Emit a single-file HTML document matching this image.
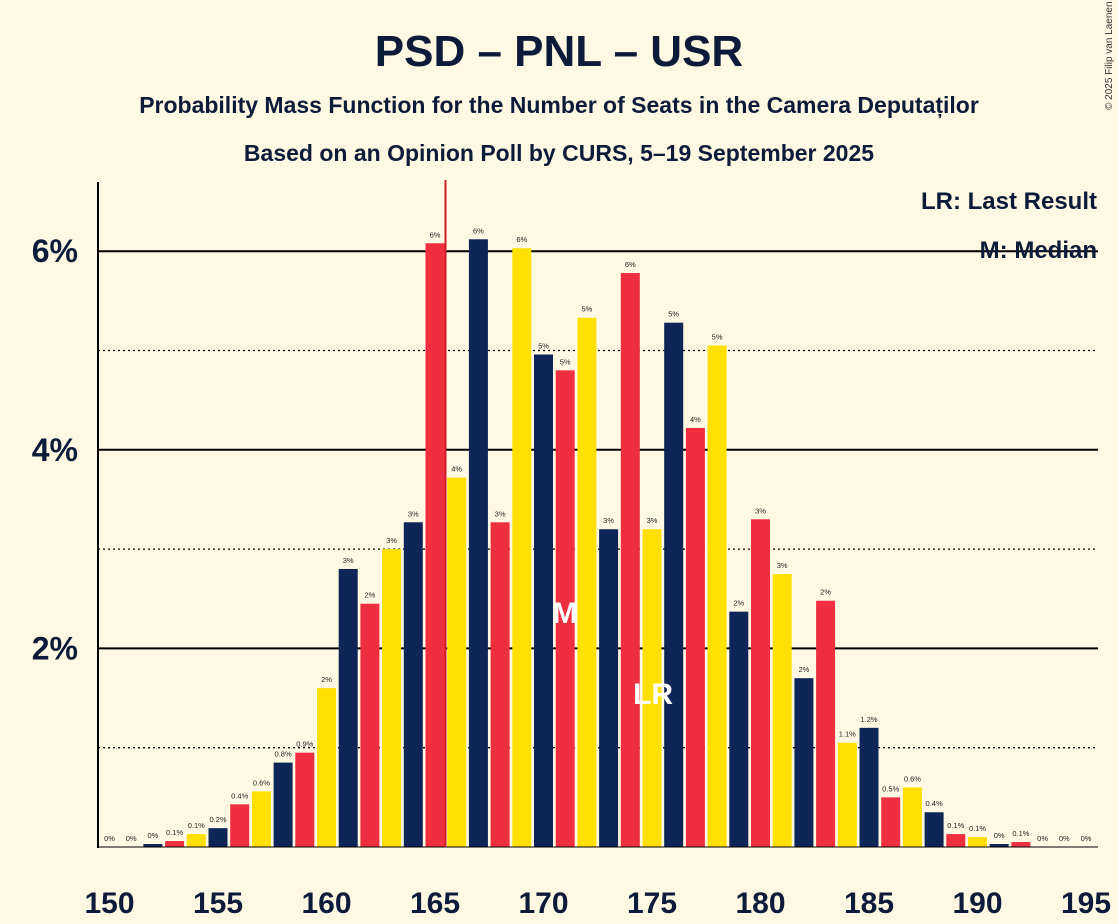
<!DOCTYPE html>
<html><head><meta charset="utf-8"><style>
body{margin:0;background:#fff9e3;}
svg{display:block;font-family:"Liberation Sans",sans-serif;}
</style></head><body>
<svg id="s" width="1118" height="924" xmlns="http://www.w3.org/2000/svg">
<rect width="1118" height="924" fill="#fff9e3"/>
<text x="559" y="66" text-anchor="middle" font-size="44" font-weight="bold" fill="#0d1b3a">PSD – PNL – USR</text>
<text x="559" y="113" text-anchor="middle" font-size="23" font-weight="bold" fill="#0d1b3a">Probability Mass Function for the Number of Seats in the Camera Deputaților</text>
<text x="559" y="161" text-anchor="middle" font-size="23" font-weight="bold" fill="#0d1b3a">Based on an Opinion Poll by CURS, 5–19 September 2025</text>
<text x="1112" y="110" font-size="10" fill="#333" transform="rotate(-90 1112 110)">© 2025 Filip van Laenen</text>
<g id="grid"></g>
<g id="bars"></g>
<line x1="98" y1="182" x2="98" y2="848" stroke="#000" stroke-width="2"/>
<line x1="98" y1="847" x2="1098" y2="847" stroke="#000" stroke-width="1"/>
<line x1="445.5" y1="180" x2="445.5" y2="847" stroke="#d01c2a" stroke-width="2"/>
<text x="1097" y="209" text-anchor="end" font-size="24" font-weight="bold" fill="#0d1b3a">LR: Last Result</text>
<text x="1097" y="258" text-anchor="end" font-size="24" font-weight="bold" fill="#0d1b3a">M: Median</text>
<text x="565" y="623" text-anchor="middle" font-size="30" font-weight="bold" fill="#fff">M</text>
<text x="653" y="704" text-anchor="middle" font-size="30" font-weight="bold" fill="#fff">LR</text>
</svg>
<script>
const v={150:0,151:0,152:0.03,153:0.06,154:0.13,155:0.19,156:0.43,157:0.56,158:0.85,159:0.95,160:1.6,161:2.8,162:2.45,163:3.0,164:3.27,165:6.08,166:3.72,167:6.12,168:3.27,169:6.03,170:4.96,171:4.8,172:5.33,173:3.2,174:5.78,175:3.2,176:5.28,177:4.22,178:5.05,179:2.37,180:3.3,181:2.75,182:1.7,183:2.48,184:1.05,185:1.2,186:0.5,187:0.6,188:0.35,189:0.13,190:0.1,191:0.03,192:0.05,193:0,194:0,195:0};
const lab={150:"0%",151:"0%",152:"0%",153:"0.1%",154:"0.1%",155:"0.2%",156:"0.4%",157:"0.6%",158:"0.8%",159:"0.9%",184:"1.1%",185:"1.2%",186:"0.5%",187:"0.6%",188:"0.4%",189:"0.1%",190:"0.1%",191:"0%",192:"0.1%",193:"0%",194:"0%",195:"0%"};
const cols=["#0d2557","#ef2f40","#ffe000"];
const Y=p=>847-p*99.3, X=s=>435+(s-165)*21.7;
let g="";
for(const p of [1,3,5]) g+=`<line x1="98" x2="1098" y1="${Y(p)}" y2="${Y(p)}" stroke="#000" stroke-width="1.3" stroke-dasharray="2,3"/>`;
for(const p of [2,4,6]){g+=`<line x1="98" x2="1098" y1="${Y(p)}" y2="${Y(p)}" stroke="#000" stroke-width="2"/>`;
g+=`<text x="78" y="${Y(p)+11}" text-anchor="end" font-size="32" font-weight="bold" fill="#0d1b3a">${p}%</text>`;}
for(let s=150;s<=195;s+=5) g+=`<text x="${X(s)}" y="913" text-anchor="middle" font-size="30" font-weight="bold" fill="#0d1b3a">${s}</text>`;
document.getElementById("grid").innerHTML=g;
let b="";
for(let s=150;s<=195;s++){const p=v[s],x=X(s);
 if(p>0) b+=`<rect x="${x-9.5}" y="${Y(p)}" width="19" height="${p*99.3}" fill="${cols[((s-152)%3+3)%3]}"/>`;
 const t=lab[s]||(Math.round(p)+"%");
 b+=`<text x="${x}" y="${Y(p)-6}" text-anchor="middle" font-size="7.5" fill="#222">${t}</text>`;}
document.getElementById("bars").innerHTML=b;
</script>
</body></html>
